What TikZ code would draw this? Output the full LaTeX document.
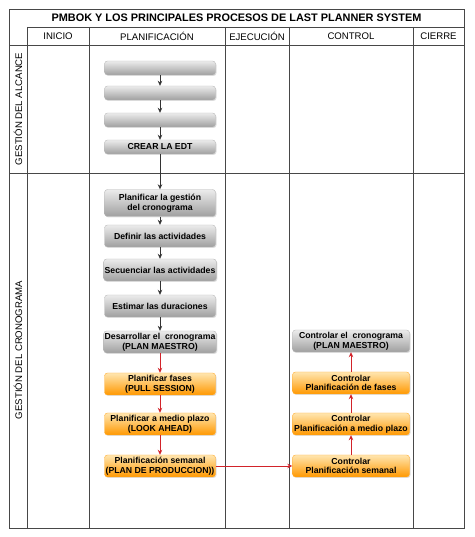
\documentclass[tikz,border=0pt]{standalone}
\usepackage{fontspec}
\setmainfont{Liberation Sans}
\usetikzlibrary{calc,shadows,arrows.meta}

\definecolor{rojo}{HTML}{D2232A}
\definecolor{naranjaclaro}{HTML}{FFE6B0}
\definecolor{naranjaosc}{HTML}{FF9800}

\begin{document}
\begin{tikzpicture}[x=1pt,y=1pt]
    \useasboundingbox (0,0) rectangle (474,537);
    % lines of the table
    \tikzstyle{linea}=[line width=.9pt, draw=black!72]
    % gray process boxes
    \tikzstyle{gris}=[draw=gray!55, rounded corners=3pt, top color=gray!15, bottom color=gray!75,
        drop shadow={opacity=.25, shadow xshift=1pt, shadow yshift=-1pt},
        font=\bfseries\fontsize{8.7}{9.6}\selectfont, align=center, inner sep=1pt,
        minimum width=111pt, minimum height=22pt]
    % orange process boxes
    \tikzstyle{naranja}=[gris, draw=naranjaosc!80, top color=naranjaclaro, bottom color=naranjaosc]
    % arrows
    \tikzstyle{flecha}=[-{Stealth[length=5pt,width=4.5pt]}, line width=.6pt, draw=black!80]
    \tikzstyle{roja}=[flecha, draw=rojo, line width=.8pt]
    \tikzstyle{cab}=[font=\fontsize{9.6}{10}\selectfont]

    % table
    \draw[linea] (9,9) rectangle (464,528);
    \draw[linea] (27,510) -- (464,510);
    \draw[linea] (9,492) -- (464,492);
    \draw[linea] (9,364) -- (464,364);
    \foreach \x in {27,89,225,289,413}
        \draw[linea] (\x,510) -- (\x,9);

    \node (TIT) at (236.5,519) {\bfseries\fontsize{10.9}{11}\selectfont PMBOK Y LOS PRINCIPALES PROCESOS DE LAST PLANNER SYSTEM};
    \node[cab] (INI) at (58,501) {INICIO};
    \node[cab] (PLA) at (157,501) {PLANIFICACIÓN};
    \node[cab] (EJE) at (257,501) {EJECUCIÓN};
    \node[cab] (CON) at (351,501) {CONTROL};
    \node[cab] (CIE) at (438.5,501) {CIERRE};
    \node[cab, rotate=90] (ALC) at (18,428) {GESTIÓN DEL ALCANCE};
    \node[cab, rotate=90] (CRO) at (18,187) {GESTIÓN DEL CRONOGRAMA};

    % alcance
    \node[gris, minimum height=14pt] (A1) at (160,469) {};
    \node[gris, minimum height=14pt] (A2) at ($(A1)+(-90:25pt)$) {};
    \node[gris, minimum height=14pt] (A3) at ($(A2)+(-90:27pt)$) {};
    \node[gris, minimum height=14pt] (EDT) at ($(A3)+(-90:27pt)$) {CREAR LA EDT};
    % cronograma
    \node[gris, minimum height=27pt] (PG) at (160,334) {Planificar la gestión\\del cronograma};
    \node[gris] (DA) at ($(PG)+(-90:33pt)$) {Definir las actividades};
    \node[gris] (SA) at ($(DA)+(-90:34pt)$) {Secuenciar las actividades};
    \node[gris] (ED) at ($(SA)+(-90:36pt)$) {Estimar las duraciones};
    \node[gris] (DC) at ($(ED)+(-90:36pt)$) {Desarrollar el \ cronograma\\(PLAN MAESTRO)};
    \node[naranja] (PF) at ($(DC)+(-90:42pt)$) {Planificar fases\\(PULL SESSION)};
    \node[naranja] (PM) at ($(PF)+(-90:40pt)$) {Planificar a medio plazo\\(LOOK AHEAD)};
    \node[naranja] (PS) at ($(PM)+(-90:42pt)$) {Planificación semanal\\(PLAN DE PRODUCCION))};
    % control
    \node[gris, minimum width=117pt] (CC) at (351,196) {Controlar el \ cronograma\\(PLAN MAESTRO)};
    \node[naranja, minimum width=117pt] (CF) at ($(CC)+(-90:42pt)$) {Controlar\\Planificación de fases};
    \node[naranja, minimum width=117pt] (CM) at ($(CF)+(-90:41pt)$) {Controlar\\Planificación a medio plazo};
    \node[naranja, minimum width=117pt] (CS) at ($(CM)+(-90:42pt)$) {Controlar\\Planificación semanal};

    \draw[flecha] (A1) -- (A2);
    \draw[flecha] (A2) -- (A3);
    \draw[flecha] (A3) -- (EDT);
    \draw[flecha] (EDT) -- (PG);
    \draw[flecha] (PG) -- (DA);
    \draw[flecha] (DA) -- (SA);
    \draw[flecha] (SA) -- (ED);
    \draw[flecha] (ED) -- (DC);
    \draw[roja] (DC) -- (PF);
    \draw[roja] (PF) -- (PM);
    \draw[roja] (PM) -- (PS);
    \draw[roja] (PS) -- (CS);
    \draw[roja] (CS) -- (CM);
    \draw[roja] (CM) -- (CF);
    \draw[roja] (CF) -- (CC);
\end{tikzpicture}
\end{document}
